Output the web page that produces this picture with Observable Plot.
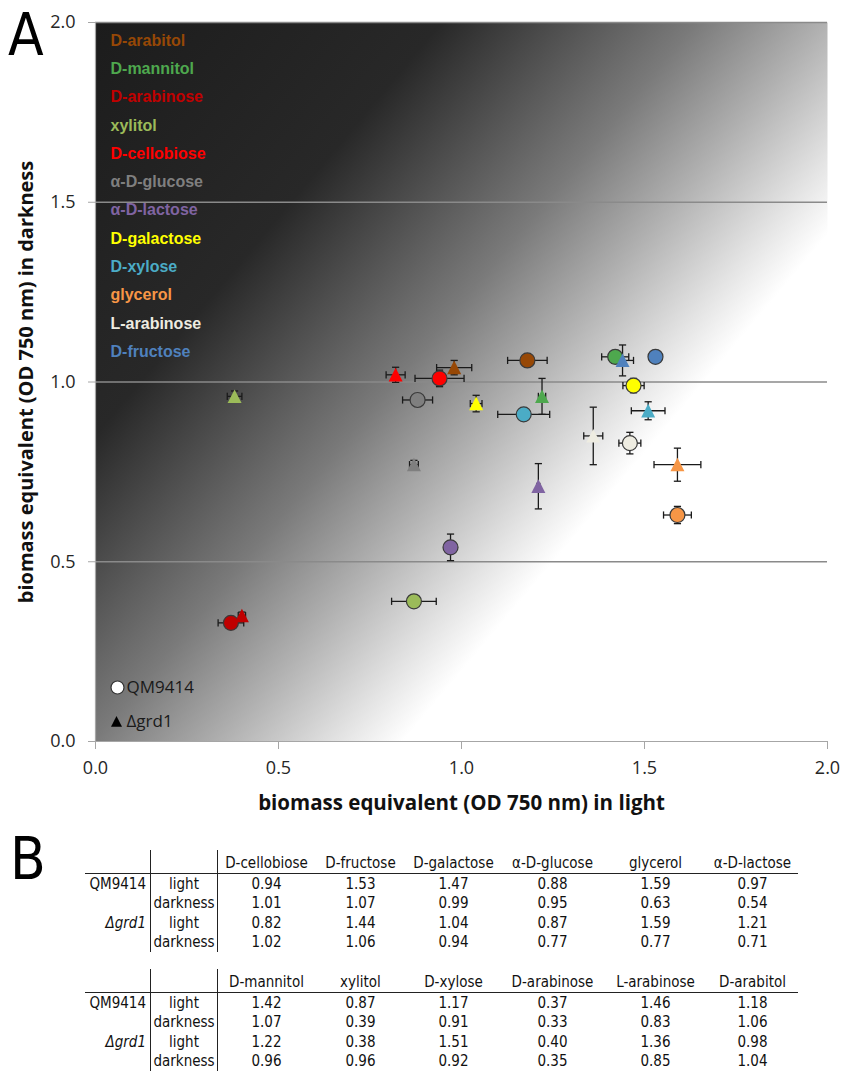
<!DOCTYPE html>
<html>
<head>
<meta charset="utf-8">
<script src="https://cdn.jsdelivr.net/npm/d3@7"></script>
<script src="https://cdn.jsdelivr.net/npm/@observablehq/plot@0.6"></script>
<style>
  body { margin:0; background:#fff; }
  #wrap { position:relative; width:846px; height:1072px; overflow:hidden; }
  .panel { position:absolute; font-family:"Liberation Sans Narrow","DejaVu Sans Condensed",sans-serif; font-size:58px; line-height:1; color:#000; }
  table.t { position:absolute; left:85px; border-collapse:collapse; font-family:"Liberation Sans Narrow","DejaVu Sans Condensed",sans-serif; font-size:15px; color:#111; }
  table.t td, table.t th { padding:0; height:19.5px; text-align:center; font-weight:normal; white-space:nowrap; }
  table.t thead th { height:22px; vertical-align:bottom; border-bottom:1.5px solid #222; padding-bottom:1px; }
  table.t .c0 { width:61px; text-align:right; padding-right:4px; border-right:1.5px solid #222; }
  table.t .c1 { width:66px; border-right:1.5px solid #222; }
  table.t .it { font-style:italic; }
</style>
</head>
<body>
<div id="wrap">
  <div class="panel" style="left:8px;top:6px;">A</div>
  <div class="panel" style="left:10px;top:830px;">B</div>
</div>
<script>
// ---- data ----
const sugars = ["D-arabitol","D-mannitol","D-arabinose","xylitol","D-cellobiose","α-D-glucose","α-D-lactose","D-galactose","D-xylose","glycerol","L-arabinose","D-fructose"];
const colors = ["#974806","#4EA84E","#C00000","#9BBB59","#FF0000","#7F7F7F","#8064A2","#FFFF00","#4BACC6","#F79646","#EEECE1","#4F81BD"];
const qmLight   = [1.18,1.42,0.37,0.87,0.94,0.88,0.97,1.47,1.17,1.59,1.46,1.53];
const qmDark    = [1.06,1.07,0.33,0.39,1.01,0.95,0.54,0.99,0.91,0.63,0.83,1.07];
const qmLightErr= [0.054,0.037,0.035,0.061,0.067,0.041,0.004,0.029,0.071,0.038,0.030,0.004];
const qmDarkErr = [0.010,0.010,0.010,0.005,0.023,0.010,0.037,0.020,0.010,0.024,0.030,0.004];
const grdLight   = [0.98,1.22,0.40,0.38,0.82,0.87,1.21,1.04,1.51,1.59,1.36,1.44];
const grdDark    = [1.04,0.96,0.35,0.96,1.02,0.77,0.71,0.94,0.92,0.77,0.85,1.06];
const grdLightErr= [0.048,0.010,0.010,0.020,0.026,0.012,0.004,0.016,0.046,0.064,0.026,0.030];
const grdDarkErr = [0.020,0.050,0.010,0.015,0.021,0.012,0.063,0.023,0.025,0.046,0.080,0.043];
const axisTicks = [0, 0.5, 1.0, 1.5, 2.0];
const gridLines = [0.5, 1.0, 1.5, 2.0];
const strains = ["QM9414", "Δgrd1"];
const table1Sugars = ["D-cellobiose","D-fructose","D-galactose","α-D-glucose","glycerol","α-D-lactose"];
const table2Sugars = ["D-mannitol","xylitol","D-xylose","D-arabinose","L-arabinose","D-arabitol"];
const xTitle = "biomass equivalent (OD 750 nm) in light";
const yTitle = "biomass equivalent (OD 750 nm) in darkness";

// ---- build rows ----
const qmRows = sugars.map((s,i) => ({sugar:s, color:colors[i], x:qmLight[i], y:qmDark[i], xe:qmLightErr[i], ye:qmDarkErr[i]}));
const grdRows = sugars.map((s,i) => ({sugar:s, color:colors[i], x:grdLight[i], y:grdDark[i], xe:grdLightErr[i], ye:grdDarkErr[i]}));
const allRows = [];
sugars.forEach((s,i) => { allRows.push(qmRows[i]); allRows.push(grdRows[i]); });

const tri = { draw(ctx, size) { const r = Math.sqrt(size / Math.PI); ctx.moveTo(0, -r); ctx.lineTo(r, r*0.95); ctx.lineTo(-r, r*0.95); ctx.closePath(); } };
const capV = { draw(ctx, size) { const r = Math.sqrt(size / Math.PI); ctx.moveTo(0, -r); ctx.lineTo(0, r); } };
const capH = { draw(ctx, size) { const r = Math.sqrt(size / Math.PI); ctx.moveTo(-r, 0); ctx.lineTo(r, 0); } };

const ff = "'Open Sans', 'Noto Sans', sans-serif";
const ebStroke = "#1a1a1a";

const marks = [
  Plot.frame({fill: "url(#bgGrad)", stroke: null}),
  Plot.gridY(gridLines, {stroke: "#8a8a8a", strokeOpacity: 1, strokeWidth: 1.3}),
  Plot.ruleX([0], {stroke: "#a6a6a6", strokeWidth: 1.2}),
  Plot.ruleY([0], {stroke: "#a6a6a6", strokeWidth: 1.2}),
  Plot.axisX(axisTicks, {tickSize: 8, tickPadding: 12, stroke: "#a6a6a6", fill: "#262626", fontSize: 18, tickFormat: d3.format(".1f"), label: null}),
  Plot.axisY(axisTicks, {tickSize: 7, tickPadding: 13, stroke: "#a6a6a6", fill: "#262626", fontSize: 18, tickFormat: d3.format(".1f"), label: null}),
  // error bars
  Plot.link(allRows, {x1: d => d.x - d.xe, x2: d => d.x + d.xe, y1: "y", y2: "y", stroke: ebStroke, strokeWidth: 1.3}),
  Plot.link(allRows, {y1: d => d.y - d.ye, y2: d => d.y + d.ye, x1: "x", x2: "x", stroke: ebStroke, strokeWidth: 1.3}),
  Plot.dot(allRows, {x: d => d.x - d.xe, y: "y", symbol: capV, r: 3.6, stroke: ebStroke, strokeWidth: 1.3, fill: "none"}),
  Plot.dot(allRows, {x: d => d.x + d.xe, y: "y", symbol: capV, r: 3.6, stroke: ebStroke, strokeWidth: 1.3, fill: "none"}),
  Plot.dot(allRows, {x: "x", y: d => d.y - d.ye, symbol: capH, r: 3.6, stroke: ebStroke, strokeWidth: 1.3, fill: "none"}),
  Plot.dot(allRows, {x: "x", y: d => d.y + d.ye, symbol: capH, r: 3.6, stroke: ebStroke, strokeWidth: 1.3, fill: "none"}),
  // markers
  Plot.dot(qmRows, {x: "x", y: "y", r: 7.5, fill: "color", stroke: "#3a3a3a", strokeWidth: 1.2}),
  Plot.dot(grdRows, {x: "x", y: "y", r: 7, symbol: tri, fill: "color", stroke: null}),
  // in-panel sugar labels
  ...sugars.map((s, i) => Plot.text([s], {frameAnchor: "top-left", text: d => d, dx: 15, dy: 18 + i * 28.3, textAnchor: "start", lineAnchor: "middle", fill: colors[i], fontFamily: "'Liberation Sans', Arial, sans-serif", fontWeight: "bold", fontSize: 16})),
  // strain legend
  Plot.dot([strains[0]], {frameAnchor: "bottom-left", dx: 22, dy: -54, r: 6.5, fill: "#fff", stroke: "#333", strokeWidth: 1.2}),
  Plot.text([strains[0]], {frameAnchor: "bottom-left", text: d => d, dx: 31, dy: -54, textAnchor: "start", lineAnchor: "middle", fill: "#1a1a1a", fontFamily: ff, fontSize: 17}),
  Plot.dot([strains[1]], {frameAnchor: "bottom-left", dx: 21, dy: -20, r: 5.5, symbol: tri, fill: "#000"}),
  Plot.text([strains[1]], {frameAnchor: "bottom-left", text: d => d, dx: 31, dy: -20, textAnchor: "start", lineAnchor: "middle", fill: "#1a1a1a", fontFamily: ff, fontSize: 17}),
  // axis titles
  Plot.text([xTitle], {frameAnchor: "bottom", text: d => d, dy: 62, textAnchor: "middle", lineAnchor: "middle", fill: "#111", fontFamily: ff, fontWeight: "bold", fontSize: 20.5}),
  Plot.text([yTitle], {frameAnchor: "left", text: d => d, dx: -69, rotate: -90, textAnchor: "middle", lineAnchor: "middle", fill: "#111", fontFamily: ff, fontWeight: "bold", fontSize: 20})
];

const svg = Plot.plot({
  width: 846, height: 820,
  marginLeft: 95, marginRight: 19, marginTop: 22, marginBottom: 79,
  x: {domain: [0, 2]},
  y: {domain: [0, 2]},
  color: {type: "identity"},
  style: {fontFamily: ff, background: "transparent", overflow: "visible"},
  marks
});

// gradient definition computed through the plot's scales
const xs = svg.scale("x"), ys = svg.scale("y");
const px = v => xs.range[0] + (v - xs.domain[0]) / (xs.domain[1] - xs.domain[0]) * (xs.range[1] - xs.range[0]);
const py = v => ys.range[0] + (v - ys.domain[0]) / (ys.domain[1] - ys.domain[0]) * (ys.range[1] - ys.range[0]);
const gradStops = [[0, "#1c1c1c"], [0.38, "#282828"], [0.66, "#7a7a7a"], [0.80, "#b0b0b0"], [0.93, "#e4e4e4"], [1, "#ffffff"]];
const defs = d3.create("svg:defs");
const lg = defs.append("linearGradient").attr("id", "bgGrad").attr("gradientUnits", "userSpaceOnUse")
  .attr("x1", px(0)).attr("y1", py(2)).attr("x2", px(1.46)).attr("y2", py(0.754));
gradStops.forEach(([o, c]) => lg.append("stop").attr("offset", o).attr("stop-color", c));
svg.insertBefore(defs.node(), svg.firstChild);
svg.style.position = "absolute"; svg.style.left = "0px"; svg.style.top = "0px";
const wrap = document.getElementById("wrap");
wrap.insertBefore(svg, wrap.firstChild);

// tables
function makeTable(list, top) {
  const idx = list.map(s => sugars.indexOf(s));
  const rows = [
    ["QM9414", false, "light", idx.map(i => qmLight[i])],
    ["", false, "darkness", idx.map(i => qmDark[i])],
    ["Δgrd1", true, "light", idx.map(i => grdLight[i])],
    ["", false, "darkness", idx.map(i => grdDark[i])]
  ];
  const widths = [97, 91, 95, 103, 103, 91];
  let h = `<table class="t" style="top:${top}px"><thead><tr><th class="c0"></th><th class="c1"></th>` +
    list.map((s, j) => `<th style="width:${widths[j]}px">${s}</th>`).join("") + `</tr></thead><tbody>`;
  rows.forEach(([a, it, b, vals]) => {
    h += `<tr><td class="c0${it ? " it" : ""}">${a}</td><td class="c1">${b}</td>` + vals.map(v => `<td>${v.toFixed(2)}</td>`).join("") + `</tr>`;
  });
  h += `</tbody></table>`;
  wrap.insertAdjacentHTML("beforeend", h);
}
makeTable(table1Sugars, 850);
makeTable(table2Sugars, 969);
</script>
</body>
</html>
